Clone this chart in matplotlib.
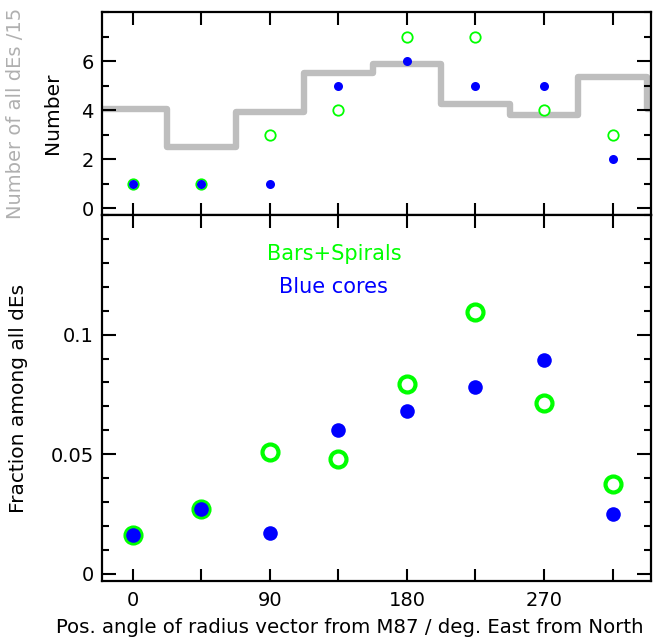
import numpy as np
import matplotlib
matplotlib.use("Agg")
import matplotlib.pyplot as plt
from matplotlib.ticker import MultipleLocator, FixedLocator, FixedFormatter

# position angle bins (deg. East from North)
angles = [0, 45, 90, 135, 180, 225, 270, 315]

# number of all dEs per bin, divided by 15 (gray histogram)
all_des_15 = [4.05, 2.49, 3.91, 5.52, 5.88, 4.26, 3.78, 5.34]

# counts per bin
n_bars_spirals = [1, 1, 3, 4, 7, 7, 4, 3]
n_blue_cores = [1, 1, 1, 5, 6, 5, 5, 2]

# fractions among all dEs
frac_bars_spirals = [0.0164, 0.0270, 0.0508, 0.0482, 0.0795, 0.1093, 0.0714, 0.0374]
frac_blue_cores = [0.0164, 0.0270, 0.0170, 0.0603, 0.0681, 0.0780, 0.0893, 0.0251]

GREEN = "#00ff00"
BLUE = "#0000ff"
GRAY = "#bebebe"

plt.rcParams['font.family'] = ['DejaVu Sans']
plt.rcParams['font.size'] = 14

fig = plt.figure(figsize=(6.59, 6.42), dpi=100)
ax1 = fig.add_axes([0.1548, 0.6651, 0.8331, 0.3162])
ax2 = fig.add_axes([0.1548, 0.0950, 0.8331, 0.5701])

xlim = (-20.3, 340.3)


def style(ax):
    for s in ax.spines.values():
        s.set_linewidth(1.6)
    ax.set_xlim(*xlim)
    ax.xaxis.set_major_locator(FixedLocator(angles))
    ax.tick_params(which='both', direction='in', top=True, right=True, width=1.5,
                   labelsize=14)
    ax.tick_params(which='major', length=10)
    ax.tick_params(which='minor', length=5)
    ax.tick_params(axis='x', which='major', length=9)


# ---- top panel: numbers ----
style(ax1)
edges = np.arange(-22.5, 360 + 45, 45)
ax1.stairs(all_des_15 + [all_des_15[0]], edges, baseline=None,
           color=GRAY, linewidth=4.6, joinstyle='round', zorder=1)
ax1.plot(angles, n_bars_spirals, 'o', ms=7.5, mfc='white', mec=GREEN, mew=1.3,
         linestyle='none', zorder=2)
ax1.plot(angles, n_blue_cores, 'o', ms=6.5, mfc=BLUE, mec=BLUE, mew=0,
         linestyle='none', zorder=3)
ax1.set_ylim(-0.28, 8.0)
ax1.yaxis.set_major_locator(FixedLocator([0, 2, 4, 6]))
ax1.yaxis.set_minor_locator(MultipleLocator(1))
ax1.set_xticklabels([])
ax1.tick_params(axis='y', pad=6)
ax1.set_ylabel("Number", labelpad=14, fontsize=14.5)
fig.text(0.024, 0.823, "Number of all dEs /15", color="#b0b0b0",
         rotation=90, ha='center', va='center', fontsize=14)

# ---- bottom panel: fractions ----
style(ax2)
ax2.plot(angles, frac_bars_spirals, 'o', ms=11.5, mfc='none', mec=GREEN, mew=3.0,
         linestyle='none', zorder=2)
ax2.plot(angles, frac_blue_cores, 'o', ms=10.5, mfc=BLUE, mec=BLUE, mew=0,
         linestyle='none', zorder=3)
ax2.set_ylim(-0.003, 0.15)
ax2.yaxis.set_major_locator(FixedLocator([0, 0.05, 0.1]))
ax2.yaxis.set_major_formatter(FixedFormatter(["0", "0.05", "0.1"]))
ax2.yaxis.set_minor_locator(MultipleLocator(0.01))
ax2.xaxis.set_major_formatter(FixedFormatter(["0", "", "90", "", "180", "", "270", ""]))
ax2.tick_params(axis='x', pad=7)
ax2.tick_params(axis='y', pad=6)
ax2.set_ylabel("Fraction among all dEs", labelpad=16, fontsize=14.5)
ax2.set_xlabel("Pos. angle of radius vector from M87 / deg. East from North",
               labelpad=6, fontsize=14.2)
ax2.xaxis.label.set_x(0.452)

ax2.text(132, 0.1337, "Bars+Spirals", color=GREEN, ha='center', va='center', fontsize=15)
ax2.text(132, 0.1199, "Blue cores", color=BLUE, ha='center', va='center', fontsize=15)

fig.savefig("out.png", dpi=100)
